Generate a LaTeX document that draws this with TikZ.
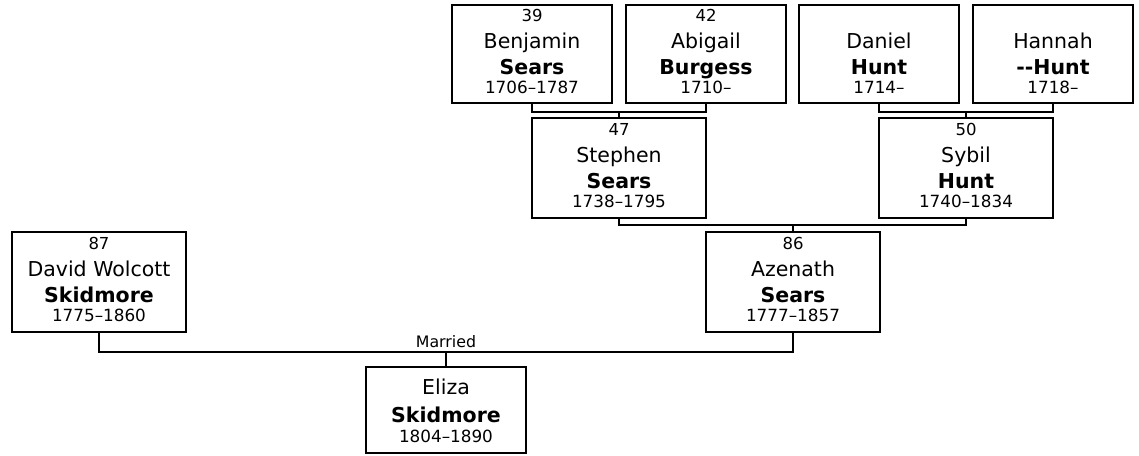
\documentclass[tikz,border=0pt]{standalone}
\usepackage{fontspec}
\setmainfont{DejaVu Sans}
\newcommand\numf{\fontsize{16.5}{18}\selectfont}
\newcommand\namef{\fontsize{20.5}{24}\selectfont}
\newcommand\surf{\fontsize{20.5}{24}\selectfont\bfseries}
\newcommand\datef{\fontsize{16.8}{18}\selectfont}
\newcommand\prow[3]{\vrule height #1 depth #2 width 0pt\relax #3}
\newcommand\person[4]{\vbox{\offinterlineskip\halign{\hfil##\hfil\cr
\prow{16pt}{0pt}{\numf #1}\cr
\prow{27pt}{6pt}{\namef #2}\cr
\prow{20pt}{5pt}{\surf #3}\cr
\prow{14pt}{9pt}{\datef #4}\cr}}}
\newcommand\personn[3]{\vbox{\offinterlineskip\halign{\hfil##\hfil\cr
\prow{27pt}{6pt}{\namef #1}\cr
\prow{22pt}{5pt}{\surf #2}\cr
\prow{15pt}{11pt}{\datef #3}\cr}}}
\begin{document}
\begin{tikzpicture}[x=1pt,y=-1pt,
  pbox/.style={draw=black, line width=2.2pt, inner sep=0pt, fill=white},
  top/.style={pbox, minimum width=160pt, minimum height=98pt},
  mid/.style={pbox, minimum width=174pt, minimum height=100pt},
  link/.style={draw=black, line width=2.2pt}]
\useasboundingbox[fill=white] (0,0) rectangle (1139,455);
% generation 1
\node[top] (b39) at (532,54) {\person{39}{Benjamin}{Sears}{1706–1787}};
\node[top] (b42) at (706,54) {\person{42}{Abigail}{Burgess}{1710–}};
\node[top] (bdan) at (879,54) {\person{}{Daniel}{Hunt}{1714–}};
\node[top] (bhan) at (1053,54) {\person{}{Hannah}{-{}-Hunt}{1718–}};
% generation 2
\node[mid] (b47) at (619,168) {\person{47}{Stephen}{Sears}{1738–1795}};
\node[mid] (b50) at (966,168) {\person{50}{Sybil}{Hunt}{1740–1834}};
% generation 3
\node[mid] (b87) at (99,282) {\person{87}{David Wolcott}{Skidmore}{1775–1860}};
\node[mid] (b86) at (793,282) {\person{86}{Azenath}{Sears}{1777–1857}};
% child
\node[pbox, minimum width=160pt, minimum height=86pt] (eliza) at (446,410) {\personn{Eliza}{Skidmore}{1804–1890}};
% junctions
\coordinate (c1) at (619,112);
\coordinate (c2) at (966,112);
\coordinate (c3) at (793,225);
\coordinate (c4) at (446,352);
\draw[link] (b39.south) |- (c1) -| (b42.south);
\draw[link] (c1) -- (b47.north);
\draw[link] (bdan.south) |- (c2) -| (bhan.south);
\draw[link] (c2) -- (b50.north);
\draw[link] (b47.south) |- (c3) -| (b50.south);
\draw[link] (c3) -- (b86.north);
\draw[link] (b87.south) |- (c4) -| (b86.south);
\draw[link] (c4) -- (eliza.north);
\node[anchor=base, inner sep=0pt, font=\fontsize{15.8}{18}\selectfont] (married) at (446,347) {Married};
\end{tikzpicture}
\end{document}
